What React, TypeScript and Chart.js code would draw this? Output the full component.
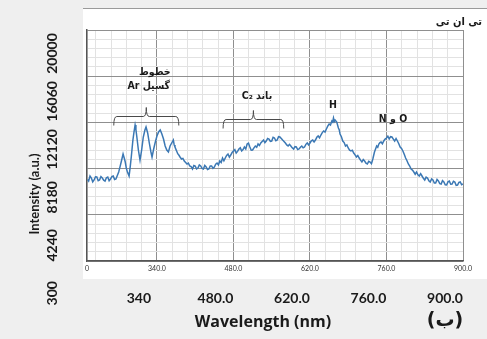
import React, { useEffect, useRef } from 'react';
import { Chart, registerables } from 'chart.js';

Chart.register(...registerables);

// ---------- data ----------
const WAVELENGTH = [
  213, 215, 217.5, 220, 222.5, 225, 227.5, 230, 232.5, 235, 237.5, 240, 242.5, 245, 247.5, 250, 252.5, 255, 257.5, 260,
  262.5, 265, 267.5, 270, 272.5, 275, 278, 280, 282, 284, 286, 289, 291, 293, 296, 298, 300, 301.5, 303, 306,
  309, 312, 315, 318, 320, 323, 326, 329, 331, 334, 337, 340, 343, 346, 349, 352, 355, 358, 361, 364,
  367, 370, 371.5, 373, 376, 378, 380, 382.5, 385, 387.5, 390, 392.5, 395, 397.5, 400, 402.5, 405, 407.5, 410, 412.5,
  415, 417.5, 420, 422.5, 425, 427.5, 430, 432.5, 435, 437.5, 440, 442.5, 445, 447.5, 450, 452.5, 455, 457.5, 460, 462.5,
  465, 467.5, 470, 472.5, 475, 477.5, 480, 482.5, 485, 487.5, 490, 492.5, 495, 497.5, 500, 502.5, 505, 507.5, 510, 512.5,
  515, 517.5, 520, 522.5, 525, 527.5, 530, 532.5, 535, 537.5, 540, 542.5, 545, 547.5, 550, 552.5, 555, 557.5, 560, 562.5,
  565, 567.5, 570, 572.5, 575, 577.5, 580, 582.5, 585, 587.5, 590, 592.5, 595, 597.5, 600, 602.5, 605, 607.5, 610, 612.5,
  615, 617.5, 620, 622.5, 625, 627.5, 630, 632.5, 635, 637.5, 640, 642.5, 645, 647.5, 650, 652.5, 655, 657.5, 660, 661.5,
  663, 664.5, 666, 669, 672, 673.5, 675, 677.5, 680, 682.5, 685, 687.5, 690, 692.5, 695, 697.5, 700, 702.5, 705, 707.5,
  710, 712.5, 715, 717.5, 720, 722.5, 725, 727.5, 730, 732.5, 735, 738, 740, 742, 744, 746, 748, 750, 752.5, 755,
  757.5, 760, 762.5, 765, 767.5, 770, 772.5, 775, 777.5, 780, 782.5, 785, 787.5, 790, 792.5, 795, 797.5, 800, 802.5, 805,
  807.5, 810, 812.5, 815, 817.5, 820, 822.5, 825, 827.5, 830, 832.5, 835, 837.5, 840, 842.5, 845, 847.5, 850, 852.5, 855,
  857.5, 860, 862.5, 865, 867.5, 870, 872.5, 875, 877.5, 880, 882.5, 885, 887.5, 890, 892.5, 895, 897.5, 900,
];
const INTENSITY = [
  7250, 7122, 7550, 7378, 7050, 7208, 7480, 7464, 7150, 7208, 7500, 7378, 7200, 7122, 7400, 7464, 7150, 7293, 7500, 7549,
  7250, 7293, 7600, 7890, 8350, 8828, 9425, 9100, 8743, 8200, 7890, 7549, 8300, 9169, 10619, 11300, 11898, 11500, 10960, 9766,
  8913, 9766, 10874, 11472, 11728, 11216, 10363, 9596, 9169, 9851, 10448, 10960, 11301, 11472, 11130, 10704, 10107, 9766, 9596, 10107,
  10363, 10619, 10200, 10022, 9681, 9450, 9340, 9150, 8998, 9050, 8828, 8700, 8572, 8650, 8402, 8350, 8146, 8450, 8402, 8150,
  8231, 8500, 8402, 8200, 8146, 8450, 8316, 8100, 8146, 8400, 8402, 8200, 8316, 8550, 8657, 8500, 8828, 8700, 9084, 8850,
  9084, 9300, 9425, 9150, 9340, 9550, 9681, 9800, 9510, 9650, 9851, 9950, 9681, 9800, 10022, 9850, 10278, 10350, 10022, 9750,
  9766, 9950, 10107, 10000, 10278, 10150, 10363, 10500, 10619, 10400, 10533, 10750, 10704, 10500, 10533, 10850, 10789, 10550, 10619, 10900,
  10874, 10750, 10619, 10500, 10363, 10200, 10107, 10250, 10107, 9950, 9851, 10050, 10022, 9800, 9851, 10000, 10107, 9950, 10022, 10250,
  10363, 10200, 10363, 10550, 10619, 10450, 10619, 10850, 10960, 10800, 11045, 11250, 11386, 11300, 11557, 11800, 11983, 11900, 12239, 12150,
  12495, 12200, 12324, 12154, 11642, 11500, 11130, 10900, 10533, 10400, 10107, 10200, 9937, 9750, 9681, 9750, 9510, 9350, 9169, 9300,
  9084, 8900, 8743, 8950, 8828, 8650, 8572, 8800, 8743, 8600, 8998, 9596, 9850, 10107, 10000, 10278, 10400, 10448, 10300, 10533,
  10700, 10789, 10950, 10704, 10900, 10874, 10700, 10533, 10750, 10533, 10300, 10022, 9900, 9681, 9400, 9084, 8850, 8572, 8400, 8146,
  8050, 7890, 7700, 7890, 7650, 7549, 7750, 7549, 7350, 7208, 7450, 7378, 7150, 7037, 7300, 7208, 6950, 6952, 7250, 7122,
  6900, 6866, 7150, 7037, 6800, 6781, 7050, 7122, 6850, 6866, 7100, 7037, 6750, 6781, 7000, 7037, 6800, 6866,
];

// axis ticks / labels
const X_MIN = 212;
const X_MAX = 900;
const X_MAJOR = [340, 480, 620, 760, 900];
const X_OUTER_LABELS = ['340', '480.0', '620.0', '760.0', '900.0'];
const Y_MIN = 300;
const Y_MAX = 20000;
const Y_LABELS = [300, 4240, 8180, 12120, 16060, 20000];

const TITLE = 'تی ان تی';
const X_TITLE = 'Wavelength (nm)';
const Y_TITLE = 'Intensity (a.u.)';
const PANEL_LABEL = '(ب)';

// annotations (data coordinates)
const NOTE_TEXT = ['خطوط', 'گسیل Ar', 'باند C₂', 'H', 'O و N'];
const NOTE_X = [336, 325, 523, 662, 772];
const NOTE_Y = [16420, 15220, 14370, 13600, 12410];
const BRACKET_FROM = [261, 461];
const BRACKET_TO = [380, 572];
const BRACKET_LEVEL = [12670, 12410];

// outer (offset) label axes ranges
const X_OUTER_MIN = 245;
const X_OUTER_MAX = 933;
const Y_OUTER_MIN = 2950;
const Y_OUTER_MAX = 21926;

const LATIN = 'Lato, "DejaVu Sans", sans-serif';
const PERSIAN = '"DejaVu Sans Condensed", "DejaVu Sans", sans-serif';

const X_MINOR_STEP = 28;
const Y_MINOR_STEP = 788;

function xTickValues() {
  const v: number[] = [X_MIN];
  for (let t = 340 - X_MINOR_STEP; t > X_MIN; t -= X_MINOR_STEP) v.push(t);
  for (let t = 340; t <= X_MAX + 0.01; t += X_MINOR_STEP) v.push(t);
  return v.sort((a, b) => a - b);
}
function yTickValues() {
  const v: number[] = [];
  for (let t = Y_MIN; t <= Y_MAX + 0.01; t += Y_MINOR_STEP) v.push(t);
  return v;
}
const isXMajor = (v: number) => X_MAJOR.includes(Math.round(v));
const isYMajor = (v: number) => Math.abs(((v - Y_MIN) % 3940)) < 1;

const annotPlugin = {
  id: 'annot',
  afterDatasetsDraw(chart: any) {
    const { ctx, scales } = chart;
    const x = scales.x, y = scales.y;
    ctx.save();
    ctx.strokeStyle = '#4a4a4a';
    ctx.lineWidth = 1;
    for (let i = 0; i < BRACKET_FROM.length; i++) {
      const x0 = x.getPixelForValue(BRACKET_FROM[i]);
      const x1 = x.getPixelForValue(BRACKET_TO[i]);
      const yy = Math.round(y.getPixelForValue(BRACKET_LEVEL[i])) + 0.5;
      const xm = (x0 + x1) / 2;
      ctx.beginPath();
      ctx.moveTo(x0, yy + 9);
      ctx.quadraticCurveTo(x0, yy, x0 + 3, yy);
      ctx.lineTo(xm - 3, yy);
      ctx.quadraticCurveTo(xm, yy, xm, yy - 9);
      ctx.quadraticCurveTo(xm, yy, xm + 3, yy);
      ctx.lineTo(x1 - 3, yy);
      ctx.quadraticCurveTo(x1, yy, x1, yy + 9);
      ctx.stroke();
    }
    ctx.fillStyle = '#1a1a1a';
    ctx.textAlign = 'center';
    ctx.textBaseline = 'middle';
    ctx.direction = 'rtl';
    for (let i = 0; i < NOTE_TEXT.length; i++) {
      ctx.font = 'bold 10.5px ' + PERSIAN;
      ctx.fillText(NOTE_TEXT[i], x.getPixelForValue(NOTE_X[i]), y.getPixelForValue(NOTE_Y[i]));
    }
    ctx.restore();
  },
  afterDraw(chart: any) {
    const { ctx, chartArea, scales } = chart;
    ctx.save();
    ctx.fillStyle = '#1a1a1a';
    ctx.textBaseline = 'middle';
    // top-right title
    ctx.textAlign = 'right';
    ctx.font = 'bold 11px ' + PERSIAN;
    ctx.fillText(TITLE, chart.width - 5, chartArea.top - 8);
    // y title
    ctx.save();
    ctx.translate(35, 194);
    ctx.rotate(-Math.PI / 2);
    ctx.textAlign = 'center';
    ctx.font = 'bold 13px ' + LATIN;
    ctx.fillText(Y_TITLE, 0, 0);
    ctx.restore();
    // x title
    ctx.textAlign = 'center';
    ctx.font = 'bold 16px "Open Sans", Lato, sans-serif';
    ctx.fillText(X_TITLE, 263, 322);
    // panel label
    ctx.font = 'bold 19px "DejaVu Sans", sans-serif';
    ctx.fillText(PANEL_LABEL, scales.x2.getPixelForValue(900), 321);
    ctx.restore();
  },
};

export default function App() {
  const ref = useRef<HTMLCanvasElement | null>(null);
  useEffect(() => {
    if (!ref.current) return;
    const data = WAVELENGTH.map((w, i) => ({ x: w, y: INTENSITY[i] }));
    const chart = new Chart(ref.current, {
      type: 'line',
      data: {
        datasets: [
          {
            data,
            borderColor: '#3b78b4',
            borderWidth: 1.5,
            pointRadius: 0,
            tension: 0,
            xAxisID: 'x',
            yAxisID: 'y',
          },
        ],
      },
      options: {
        responsive: false,
        animation: false,
        layout: { padding: { top: 30, right: 24, left: 0, bottom: 0 } },
        plugins: { legend: { display: false }, tooltip: { enabled: false }, title: { display: false } },
        scales: {
          x: {
            type: 'linear',
            position: 'bottom',
            weight: 0,
            min: X_MIN,
            max: X_MAX,
            afterBuildTicks: (s: any) => {
              s.ticks = xTickValues().map((v) => ({ value: v }));
            },
            afterFit: (s: any) => {
              s.height = 14;
            },
            ticks: {
              autoSkip: false,
              maxRotation: 0,
              minRotation: 0,
              padding: 4,
              font: { family: LATIN, size: 7 },
              color: '#333',
              callback: (v: any) => (v === X_MIN ? '0' : isXMajor(v) ? Number(v).toFixed(1) : ''),
            },
            grid: {
              drawTicks: false,
              color: (c: any) => (c.tick && isXMajor(c.tick.value) ? '#8f8f8f' : '#e2e2e2'),
              lineWidth: 1,
            },
            border: { display: true, color: '#555', width: 1.5 },
          },
          x2: {
            type: 'linear',
            position: 'bottom',
            weight: 1,
            min: X_OUTER_MIN,
            max: X_OUTER_MAX,
            afterBuildTicks: (s: any) => {
              s.ticks = X_MAJOR.map((v) => ({ value: v }));
            },
            afterFit: (s: any) => {
              s.height = 64;
            },
            ticks: {
              autoSkip: false,
              maxRotation: 0,
              minRotation: 0,
              padding: 15,
              font: { family: LATIN, size: 14, weight: 'bold' },
              color: '#1a1a1a',
              callback: (v: any) => X_OUTER_LABELS[X_MAJOR.indexOf(Math.round(v))] ?? '',
            },
            grid: { display: false, drawTicks: false },
            border: { display: false },
          },
          y: {
            type: 'linear',
            position: 'left',
            weight: 0,
            min: Y_MIN,
            max: Y_MAX,
            afterBuildTicks: (s: any) => {
              s.ticks = yTickValues().map((v) => ({ value: v }));
            },
            afterFit: (s: any) => {
              s.width = 0;
            },
            ticks: { display: false },
            grid: {
              drawTicks: false,
              color: (c: any) => (c.tick && isYMajor(c.tick.value) ? '#8f8f8f' : '#e2e2e2'),
              lineWidth: 1,
            },
            border: { display: true, color: '#555', width: 1.5 },
          },
          y2: {
            type: 'linear',
            position: 'left',
            weight: 1,
            min: Y_OUTER_MIN,
            max: Y_OUTER_MAX,
            afterBuildTicks: (s: any) => {
              s.ticks = Y_LABELS.map((v) => ({ value: v }));
            },
            afterFit: (s: any) => {
              s.width = 87;
            },
            ticks: {
              autoSkip: false,
              minRotation: 90,
              maxRotation: 90,
              crossAlign: 'center',
              padding: 14,
              font: { family: LATIN, size: 14, weight: 'bold' },
              color: '#1a1a1a',
              callback: (v: any) => String(v),
            },
            grid: { display: false, drawTicks: false },
            border: { display: false },
          },
        },
      },
      plugins: [annotPlugin],
    } as any);
    return () => chart.destroy();
  }, []);

  return (
    <div style={{ position: 'fixed', left: 0, top: 0, width: 487, height: 339, background: '#efefef', overflow: 'hidden' }}>
      <div
        style={{
          position: 'absolute',
          left: 83,
          top: 8,
          width: 404,
          height: 270,
          background: '#ffffff',
          borderTop: '1px solid #9a9a9a',
        }}
      />
      <canvas ref={ref} width={487} height={339} style={{ position: 'absolute', left: 0, top: 0, width: 487, height: 339 }} />
    </div>
  );
}
